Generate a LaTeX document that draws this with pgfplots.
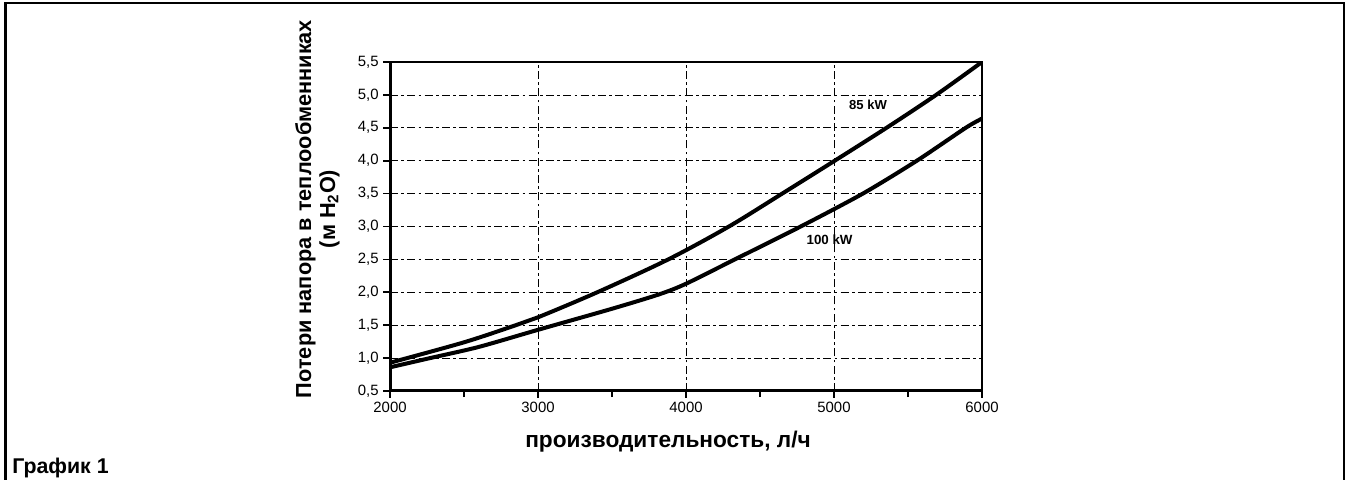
\documentclass[border=0pt]{standalone}
\usepackage{fontspec}
\setmainfont{Liberation Sans}
\usepackage{pgfplots}
\pgfplotsset{compat=1.18}
\begin{document}
\begin{tikzpicture}
\begin{scope}[x=0.75pt,y=-0.75pt]
\useasboundingbox (0,0) rectangle (1349,479);
\draw[line width=1.9pt] (5.3,481) -- (5.3,2.8) -- (1344,2.8) -- (1344,481);
\node[rotate=90, align=center, anchor=base, inner sep=0pt, font=\bfseries\fontsize{16.3}{18}\selectfont] at (335,209)
  {Потери напора в теплообменниках\\(м H\textsubscript{2}O)};
\node[anchor=base, inner sep=0pt, font=\bfseries\fontsize{17}{20}\selectfont] at (668,447) {производительность, л/ч};
\node[anchor=base west, inner sep=0pt, font=\bfseries\fontsize{16}{19}\selectfont] at (12,473) {График 1};
\end{scope}
\begin{axis}[
  at={(292.5pt,-293.25pt)}, anchor=south west,
  scale only axis, width=444pt, height=246.75pt,
  xmin=2000, xmax=6000, ymin=0.5, ymax=5.5,
  xtick={2000,3000,4000,5000,6000},
  minor xtick={2500,3500,4500,5500},
  ytick={0.5,1,1.5,2,2.5,3,3.5,4,4.5,5,5.5},
  xtick pos=bottom, ytick pos=left,
  tick align=outside,
  major tick length=5pt, minor tick length=4.5pt,
  tick style={black, line width=1.3pt},
  xmajorgrids, ymajorgrids,
  major grid style={black, line width=0.55pt, dash pattern=on 6pt off 2.5pt on 2pt off 2.5pt},
  axis line style={line width=0.8pt},
  /pgf/number format/assume math mode=true,
  tick label style={font=\fontsize{11.2}{13}\selectfont},
  yticklabel style={/pgf/number format/.cd, use comma, fixed, fixed zerofill, precision=1},
  xticklabel style={/pgf/number format/.cd, set thousands separator={}},
]
\addplot[black, line width=3pt, smooth, tension=0.5] coordinates {
 (2000,0.93) (2500,1.24) (2850,1.5) (3000,1.62) (3400,2.0) (3880,2.5)
 (4290,3.0) (4650,3.5) (5005,4.0) (5355,4.5) (5690,5.0) (6000,5.5)
};
\addplot[black, line width=3pt, smooth, tension=0.45] coordinates {
 (2000,0.86) (2270,1.0) (2600,1.17) (3000,1.43) (3500,1.75) (3820,1.97) (4000,2.13)
 (4330,2.5) (4775,3.0) (5195,3.5) (5560,4.0) (5890,4.5) (6000,4.64)
};
\draw[line width=2.3pt] (rel axis cs:0,1) -- (rel axis cs:0,0) -- (rel axis cs:1,0);
\node[font=\bfseries\fontsize{9.8}{12}\selectfont] at (axis cs:5230,4.85) {85 kW};
\node[font=\bfseries\fontsize{10}{12}\selectfont] at (axis cs:4970,2.8) {100 kW};
\end{axis}
\end{tikzpicture}
\end{document}
